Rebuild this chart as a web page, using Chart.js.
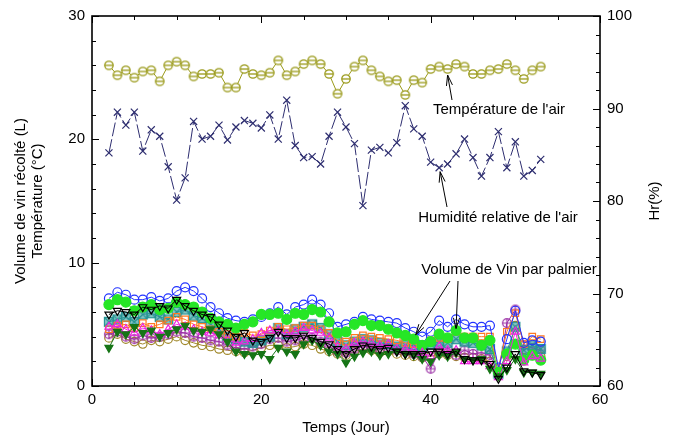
<!DOCTYPE html>
<html>
<head>
<meta charset="utf-8">
<script src="https://cdn.jsdelivr.net/npm/chart.js@4/dist/chart.umd.min.js"></script>
<style>
  html, body { margin: 0; padding: 0; background: #fff; }
  #wrap { width: 677px; height: 440px; }
</style>
</head>
<body>
<div id="wrap"><canvas id="chart" width="677" height="440"></canvas></div>
<script>
// days 2 .. 53
const days = [];
for (let d = 2; d <= 53; d++) days.push(d);

// air temperature (°C, left axis)
const temperature = [26.0, 25.2, 25.6, 25.0, 25.5, 25.6, 24.7, 26.0, 26.3, 26.0, 25.1, 25.3,
  25.3, 25.4, 24.2, 24.2, 25.7, 25.3, 25.2, 25.4, 26.4, 25.2, 25.5, 26.1,
  26.4, 26.1, 25.3, 23.7, 24.9, 25.9, 26.4, 25.6, 25.1, 24.7, 24.8, 23.6,
  24.8, 24.6, 25.7, 25.9, 25.7, 26.1, 25.9, 25.3, 25.3, 25.6, 25.7, 26.1,
  25.6, 24.9, 25.6, 25.9];

// relative humidity (%, right axis)
const humidity = [85.2, 89.6, 88.2, 89.6, 85.4, 87.7, 87.0, 83.7, 80.1, 82.5, 88.6, 86.7,
  87.0, 88.2, 86.6, 88.0, 88.7, 88.4, 87.9, 89.3, 86.7, 90.9, 86.0, 84.7,
  84.8, 84.0, 87.0, 89.6, 88.0, 86.2, 79.5, 85.5, 85.8, 85.2, 86.3, 90.3,
  87.8, 87.0, 84.2, 83.6, 84.0, 85.1, 86.7, 84.7, 82.7, 84.7, 87.5, 83.6,
  86.4, 82.7, 83.3, 84.5];

// wine volume per palm tree (L, left axis)
const palmBlue = [7.1, 7.6, 7.4, 7.0, 7.0, 7.2, 6.9, 7.1, 7.7, 8.0, 7.7, 7.1,
  6.4, 5.9, 5.5, 5.3, 5.2, 5.4, 5.6, 5.9, 6.4, 5.8, 6.4, 6.6,
  7.0, 6.6, 5.9, 4.8, 5.0, 5.2, 5.6, 5.4, 5.3, 5.2, 5.1, 4.7,
  4.4, 4.0, 4.4, 5.3, 4.8, 5.4, 5.0, 4.8, 4.8, 4.9, 1.5, 3.8,
  6.1, 3.5, 3.7, 3.6];
const palmGreen = [6.6, 7.0, 6.8, 6.1, 6.4, 6.6, 6.2, 6.3, 6.8, 6.6, 6.4, 6.0,
  5.5, 5.2, 5.0, 4.7, 5.0, 5.2, 5.8, 5.8, 5.9, 5.4, 5.9, 5.8,
  6.2, 6.0, 5.2, 4.3, 4.4, 5.0, 5.3, 4.9, 4.9, 4.6, 4.3, 4.1,
  3.8, 3.3, 3.6, 4.2, 3.9, 4.5, 3.9, 3.9, 3.3, 3.7, 1.1, 2.6,
  3.4, 2.1, 2.5, 2.1];
const palmBlack = [5.8, 6.1, 6.0, 5.8, 6.4, 6.2, 6.5, 6.3, 7.0, 6.5, 6.1, 5.8,
  5.6, 5.0, 4.5, 4.0, 4.3, 3.7, 3.6, 3.9, 4.4, 3.9, 3.9, 4.1,
  3.9, 3.6, 3.4, 3.0, 2.6, 3.0, 3.3, 3.2, 3.0, 3.1, 2.8, 2.6,
  2.6, 2.6, 2.8, 2.8, 2.6, 2.8, 2.2, 2.1, 2.1, 1.8, 0.6, 1.5,
  2.6, 1.2, 1.1, 0.9];
const palmDarkGreen = [3.1, 4.4, 4.2, 4.8, 4.3, 4.5, 4.0, 4.3, 4.6, 4.9, 4.5, 4.4,
  4.6, 4.2, 3.6, 2.8, 2.6, 2.5, 2.6, 2.2, 3.1, 2.8, 2.6, 3.4,
  3.7, 3.3, 2.8, 2.6, 1.9, 2.4, 2.7, 2.8, 2.5, 2.6, 2.8, 2.6,
  2.5, 2.2, 2.0, 2.5, 2.4, 2.7, 2.2, 2.1, 2.2, 1.4, 0.8, 1.3,
  2.2, 1.1, 1.1, 1.0];
const palmOrange = [4.6, 4.9, 5.0, 4.7, 5.1, 4.8, 5.0, 5.3, 5.6, 5.4, 5.0, 4.8,
  4.6, 4.4, 4.2, 4.0, 4.3, 4.1, 4.2, 4.5, 4.8, 4.6, 4.7, 4.9,
  4.9, 4.6, 4.3, 3.7, 3.6, 3.9, 4.1, 4.0, 3.9, 3.8, 3.7, 3.5,
  3.4, 3.3, 3.7, 3.9, 3.8, 4.4, 4.0, 4.0, 4.0, 4.0, 1.5, 4.4,
  5.9, 3.4, 4.0, 3.8];
const palmTeal = [5.2, 5.4, 5.6, 5.2, 5.8, 5.9, 5.6, 5.4, 6.0, 6.2, 5.7, 5.5,
  5.0, 4.6, 4.0, 3.8, 3.6, 3.5, 3.7, 4.0, 4.7, 4.2, 4.6, 4.8,
  5.0, 4.7, 4.2, 3.6, 3.3, 3.6, 3.8, 3.7, 3.5, 3.4, 3.2, 3.3,
  3.3, 3.1, 3.4, 3.6, 3.5, 3.8, 3.6, 3.5, 3.3, 3.0, 1.0, 2.8,
  4.8, 2.9, 3.3, 3.0];
const palmMagenta = [4.8, 5.0, 4.6, 4.3, 4.7, 4.5, 4.2, 4.6, 5.0, 4.8, 4.6, 4.4,
  4.3, 4.1, 3.8, 3.5, 3.6, 3.8, 4.3, 4.5, 4.5, 4.2, 4.4, 4.7,
  4.5, 4.3, 3.9, 3.2, 3.0, 3.5, 3.6, 3.5, 3.3, 3.4, 3.0, 3.0,
  2.9, 2.7, 2.4, 3.2, 2.9, 2.9, 2.0, 2.0, 2.0, 1.6, 0.7, 2.0,
  4.4, 1.9, 2.4, 2.2];
const palmPurple = [4.2, 4.4, 4.0, 3.8, 4.1, 3.9, 4.0, 4.2, 4.4, 4.3, 4.0, 3.9,
  3.7, 3.6, 3.3, 3.1, 3.0, 3.2, 3.4, 3.8, 3.9, 3.6, 3.7, 3.9,
  3.9, 3.6, 3.2, 2.8, 2.7, 3.0, 3.2, 3.1, 3.0, 3.2, 2.9, 2.8,
  2.6, 2.4, 1.4, 2.8, 2.7, 2.5, 2.9, 2.6, 2.7, 2.5, 1.0, 5.1,
  6.2, 3.3, 3.1, 2.9];
const palmOlive = [3.9, 4.2, 3.8, 3.6, 3.4, 3.7, 3.6, 3.8, 4.0, 3.7, 3.5, 3.3,
  3.2, 3.0, 2.9, 2.8, 2.7, 2.9, 3.1, 3.3, 3.3, 3.1, 3.2, 3.4,
  3.3, 3.0, 2.8, 2.6, 2.5, 2.8, 3.0, 2.9, 2.7, 2.8, 2.6, 2.5,
  2.4, 2.3, 2.4, 2.6, 2.5, 2.4, 2.3, 2.3, 2.2, 2.0, 1.0, 2.4,
  4.9, 2.3, 2.6, 2.4];

const xTicks = [0, 20, 40, 60];
const leftTicks = [0, 10, 20, 30];
const rightTicks = [60, 70, 80, 90, 100];

const FONT = '"Liberation Sans", Arial, sans-serif';
const OLIVE = '#999918';
const NAVY = '#2e2e70';

const pts = (vals) => vals.map((v, i) => ({ x: days[i], y: v }));

// small canvases for marker shapes chart.js has no style for
const makeMarker = (size, draw) => {
    const c = document.createElement('canvas');
    c.width = size; c.height = size;
    const g = c.getContext('2d');
    draw(g, size / 2);
    return c;
};
const thetaMarker = makeMarker(12, (g, m) => {
    g.beginPath(); g.arc(m, m, 4.2, 0, Math.PI * 2);
    g.fillStyle = '#fff'; g.fill();
    g.strokeStyle = OLIVE; g.lineWidth = 1.3; g.stroke();
    g.beginPath(); g.moveTo(m - 4.2, m); g.lineTo(m + 4.2, m); g.stroke();
});
const plusCircle = makeMarker(12, (g, m) => {
    g.strokeStyle = '#9b2fa6'; g.lineWidth = 1.2;
    g.beginPath(); g.arc(m, m, 4.3, 0, Math.PI * 2); g.stroke();
    g.beginPath(); g.moveTo(m - 4.3, m); g.lineTo(m + 4.3, m);
    g.moveTo(m, m - 4.3); g.lineTo(m, m + 4.3); g.stroke();
});
const tealBox = makeMarker(12, (g, m) => {
    g.fillStyle = 'rgba(40,150,150,0.55)';
    g.fillRect(m - 4.5, m - 4.5, 9, 9);
    g.strokeStyle = '#279494'; g.lineWidth = 1.2;
    g.strokeRect(m - 4.5, m - 4.5, 9, 9);
    g.beginPath(); g.moveTo(m - 4, m - 4); g.lineTo(m + 4, m + 4);
    g.moveTo(m + 4, m - 4); g.lineTo(m - 4, m + 4); g.stroke();
});

const palmSet = (data, color, style, opts) => Object.assign({
    data: pts(data), yAxisID: 'y', borderColor: color, borderWidth: 1,
    pointStyle: style, pointRadius: 4.2, pointBorderColor: color,
    pointBackgroundColor: 'rgba(0,0,0,0)', pointBorderWidth: 1.2,
    tension: 0
}, opts || {});

const datasets = [
    { data: pts(temperature), yAxisID: 'y', borderColor: OLIVE, borderWidth: 1,
      pointStyle: thetaMarker, pointRadius: 5 },
    { data: pts(humidity), yAxisID: 'y1', borderColor: NAVY, borderWidth: 1,
      borderDash: [14, 3], pointStyle: 'crossRot', pointRadius: 5,
      pointBorderColor: NAVY, pointBorderWidth: 1.2 },
    palmSet(palmBlack, '#000000', 'triangle', { pointRotation: 180, pointRadius: 4.6 }),
    palmSet(palmDarkGreen, '#167516', 'triangle', { pointRotation: 180, pointRadius: 4.6,
      pointBackgroundColor: '#167516' }),
    palmSet(palmMagenta, '#ee22e0', 'triangle', { pointRadius: 4.6 }),
    palmSet(palmGreen, '#26e626', 'circle', { pointRadius: 5, pointBackgroundColor: '#26e626' }),
    palmSet(palmBlue, '#2233ff', 'circle', { pointRadius: 4.5 }),
    palmSet(palmOrange, '#ff7a22', 'rect', { pointRadius: 4.6 }),
    palmSet(palmTeal, '#279494', tealBox, { pointRadius: 5 }),
    palmSet(palmPurple, '#9b2fa6', plusCircle, { pointRadius: 5 }),
    palmSet(palmOlive, '#a0882a', 'circle', { pointRadius: 4.2 })
];

// inward ticks, frame, titles and annotation arrows
const arrow = (ctx, x1, y1, x2, y2) => {
    const a = Math.atan2(y2 - y1, x2 - x1);
    ctx.beginPath();
    ctx.moveTo(x1, y1); ctx.lineTo(x2, y2);
    ctx.moveTo(x2, y2); ctx.lineTo(x2 - 11 * Math.cos(a - 0.28), y2 - 11 * Math.sin(a - 0.28));
    ctx.moveTo(x2, y2); ctx.lineTo(x2 - 11 * Math.cos(a + 0.28), y2 - 11 * Math.sin(a + 0.28));
    ctx.stroke();
};

const decor = {
    id: 'decor',
    afterDraw(chart) {
        const ctx = chart.ctx;
        const a = chart.chartArea;
        const sx = chart.scales.x, sy = chart.scales.y, sr = chart.scales.y1;
        ctx.save();
        ctx.strokeStyle = '#000';
        ctx.lineWidth = 1;
        ctx.beginPath();
        for (let v = 0; v <= 60; v += 5) {
            const px = Math.round(sx.getPixelForValue(v)) + 0.5;
            const len = v % 20 === 0 ? 7 : 4;
            ctx.moveTo(px, a.bottom); ctx.lineTo(px, a.bottom - len);
            ctx.moveTo(px, a.top); ctx.lineTo(px, a.top + len);
        }
        for (let v = 0; v <= 30; v += 2) {
            const py = Math.round(sy.getPixelForValue(v)) + 0.5;
            ctx.moveTo(a.left, py); ctx.lineTo(a.left + 4, py);
        }
        leftTicks.forEach(v => {
            const py = Math.round(sy.getPixelForValue(v)) + 0.5;
            ctx.moveTo(a.left, py); ctx.lineTo(a.left + 7, py);
        });
        for (let v = 60; v <= 100; v += 2) {
            const py = Math.round(sr.getPixelForValue(v)) + 0.5;
            const len = v % 10 === 0 ? 7 : 4;
            ctx.moveTo(a.right, py); ctx.lineTo(a.right - len, py);
        }
        ctx.stroke();

        ctx.lineWidth = 1.6;
        ctx.strokeRect(a.left, a.top, a.right - a.left, a.bottom - a.top);

        // axis titles
        ctx.fillStyle = '#000';
        ctx.font = '15px ' + FONT;
        ctx.textAlign = 'center';
        ctx.textBaseline = 'middle';
        ctx.fillText('Temps (Jour)', (a.left + a.right) / 2, 428);
        const midY = (a.top + a.bottom) / 2;
        ctx.save();
        ctx.translate(21, midY); ctx.rotate(-Math.PI / 2);
        ctx.fillText('Volume de vin récolté (L)', 0, 0);
        ctx.restore();
        ctx.save();
        ctx.translate(38, midY); ctx.rotate(-Math.PI / 2);
        ctx.fillText('Température (°C)', 0, 0);
        ctx.restore();
        ctx.save();
        ctx.translate(655, midY); ctx.rotate(-Math.PI / 2);
        ctx.fillText('Hr(%)', 0, 0);
        ctx.restore();

        // annotations
        ctx.fillText('Température de l\'air', 499, 110);
        ctx.fillText('Humidité relative de l\'air', 498, 218);
        ctx.fillText('Volume de Vin par palmier', 509, 270);

        ctx.lineWidth = 1;
        const tx = sx.getPixelForValue(42), ty = sy.getPixelForValue(temperature[40]);
        arrow(ctx, 452, 100, tx, ty + 6);
        const hx = sx.getPixelForValue(41), hy = sr.getPixelForValue(humidity[39]);
        arrow(ctx, 447, 207, hx + 1, hy + 4);
        const bx = sx.getPixelForValue(38), by = sy.getPixelForValue(palmBlue[36]);
        arrow(ctx, 450, 281, bx + 2, by + 3);
        const gx = sx.getPixelForValue(43), gy = sy.getPixelForValue(palmGreen[41]);
        arrow(ctx, 458, 281, gx, gy - 2);
        ctx.restore();
    }
};

new Chart(document.getElementById('chart'), {
    type: 'line',
    data: { datasets },
    options: {
        responsive: false,
        animation: false,
        layout: { padding: { top: 12, left: 0, right: 0, bottom: 0 } },
        plugins: { legend: { display: false }, tooltip: { enabled: false } },
        scales: {
            x: {
                type: 'linear', min: 0, max: 60,
                afterFit: s => { s.height = 54; },
                afterBuildTicks: s => { s.ticks = xTicks.map(v => ({ value: v })); },
                grid: { display: false, drawTicks: false },
                border: { display: false },
                ticks: { padding: 5, color: '#000', font: { family: FONT, size: 15 } }
            },
            y: {
                position: 'left', min: 0, max: 30,
                afterFit: s => { s.width = 92; },
                afterBuildTicks: s => { s.ticks = leftTicks.map(v => ({ value: v })); },
                grid: { display: false, drawTicks: false },
                border: { display: false },
                ticks: { padding: 7, color: '#000', font: { family: FONT, size: 15 } }
            },
            y1: {
                position: 'right', min: 60, max: 100,
                afterFit: s => { s.width = 77; },
                afterBuildTicks: s => { s.ticks = rightTicks.map(v => ({ value: v })); },
                grid: { display: false, drawTicks: false },
                border: { display: false },
                ticks: { padding: 7, color: '#000', font: { family: FONT, size: 15 } }
            }
        }
    },
    plugins: [decor]
});
</script>
</body>
</html>
